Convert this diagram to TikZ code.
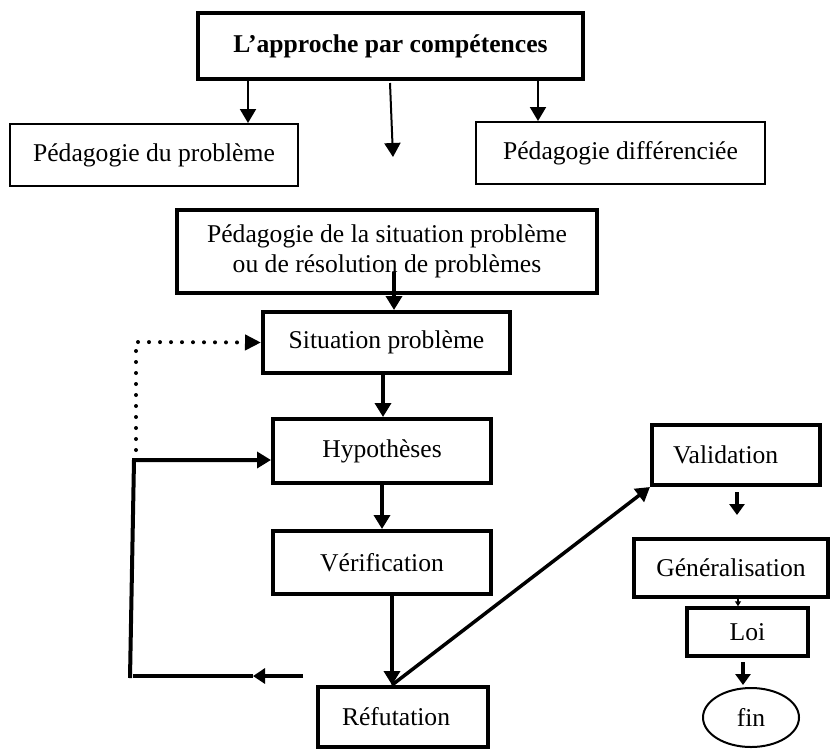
\documentclass[tikz,border=0pt]{standalone}
\usepackage{fontspec}
\setmainfont{Liberation Serif}
\usetikzlibrary{arrows.meta,shapes.geometric}

\begin{document}
\begin{tikzpicture}[x=1pt,y=-1pt,
  every node/.style={font=\fontsize{25.6}{29.5}\selectfont, inner sep=0pt, align=center},
  thinbox/.style={draw, rectangle, line width=2pt},
  thickbox/.style={draw, rectangle, line width=4pt},
  thinarrow/.style={line width=2pt, -{Triangle[length=14pt,width=16pt]}},
  thickarrow/.style={line width=4pt, -{Triangle[length=14pt,width=16pt]}},
  shortarrow/.style={line width=4pt, -{Triangle[length=11pt,width=15pt]}},
  tinyarrow/.style={line width=1.5pt, -{Triangle[length=5pt,width=6pt]}},
  dotline/.style={line width=4pt, line cap=round, dash pattern=on 0pt off 11pt,
                  -{Triangle[length=16pt,width=15pt]}},
  plainline/.style={line width=4pt}
]
\useasboundingbox (0,0) rectangle (832,748);

% boxes
\node[thickbox, minimum width=385pt, minimum height=66pt,
      font=\fontsize{25.6}{29.5}\selectfont\bfseries] (top) at (390.5,46) {L’approche par compétences};
\node[thinbox, minimum width=288pt, minimum height=62pt] (pdp) at (154,155) {Pédagogie du problème};
\node[thinbox, minimum width=289pt, minimum height=62pt] (pdiff) at (620.5,153) {Pédagogie différenciée};
\node[thickbox, minimum width=420pt, minimum height=83pt] (psp) at (387,251.5)
      {Pédagogie de la situation problème\\ou de résolution de problèmes};
\node[thickbox, minimum width=247pt, minimum height=61pt] (sit) at (386.5,342.5) {Situation problème};
\node[thickbox, minimum width=218pt, minimum height=64pt] (hyp) at (382,451) {Hypothèses};
\node[thickbox, minimum width=218pt, minimum height=63pt] (ver) at (382,562.5) {Vérification};
\node[thickbox, minimum width=170pt, minimum height=60pt, text width=122pt, align=left] (ref) at (403,717) {Réfutation};
\node[thickbox, minimum width=168pt, minimum height=60pt, text width=126pt, align=left] (val) at (736,455) {Validation};
\node[thickbox, minimum width=194pt, minimum height=58pt] (gen) at (731,567.5) {Généralisation};
\node[thickbox, line width=3.5pt, minimum width=121pt, minimum height=48pt] (loi) at (747.5,632) {Loi};
\node[draw, ellipse, line width=2pt, minimum width=96pt, minimum height=59pt] (fin) at (751,717.5) {fin};

% reference points for connectors
\coordinate (xl) at (248,0);
\coordinate (xr) at (538,0);
\coordinate (mt) at (390,83);
\coordinate (mb) at (393,157);
\coordinate (psin) at (394,272);
\coordinate (xsh) at (383,0);
\coordinate (xhv) at (382,0);
\coordinate (xvr) at (392,0);
\coordinate (dotbot) at (136,450);
\coordinate (dottop) at (136,342);
\coordinate (loopbot) at (130,678);
\coordinate (looptop) at (134,460);
\coordinate (retstart) at (303,676);
\coordinate (rettip) at (253,676);
\coordinate (retend) at (133,676);
\coordinate (vg1) at (737,492);
\coordinate (vg2) at (737,515);
\coordinate (xgl) at (738,0);
\coordinate (lf1) at (743,662);
\coordinate (lf2) at (743,685);

% connectors
\draw[thinarrow] (top.south -| xl) -- (pdp.north -| xl);
\draw[thinarrow] (top.south -| xr) -- (pdiff.north -| xr);
\draw[thinarrow] (mt) -- (mb);
\draw[thickarrow] (psin) -- (psin |- sit.north);
\draw[thickarrow] (sit.south -| xsh) -- (hyp.north -| xsh);
\draw[thickarrow] (hyp.south -| xhv) -- (ver.north -| xhv);
\draw[thickarrow] (ver.south -| xvr) -- (ref.north -| xvr);
\draw[thickarrow, line width=3.5pt] (ref.north -| xvr) -- (val.south west);
\draw[dotline] (dotbot) -- (dottop) -- (sit.west);
\draw[thickarrow] (loopbot) -- (looptop) -- (looptop -| hyp.west);
\draw[thickarrow, -{Triangle[length=12pt,width=15pt]}] (retstart) -- (rettip);
\draw[plainline] (rettip) -- (retend);
\draw[shortarrow] (vg1) -- (vg2);
\draw[tinyarrow] (gen.south -| xgl) -- (loi.north -| xgl);
\draw[shortarrow] (lf1) -- (lf2);
\end{tikzpicture}
\end{document}
